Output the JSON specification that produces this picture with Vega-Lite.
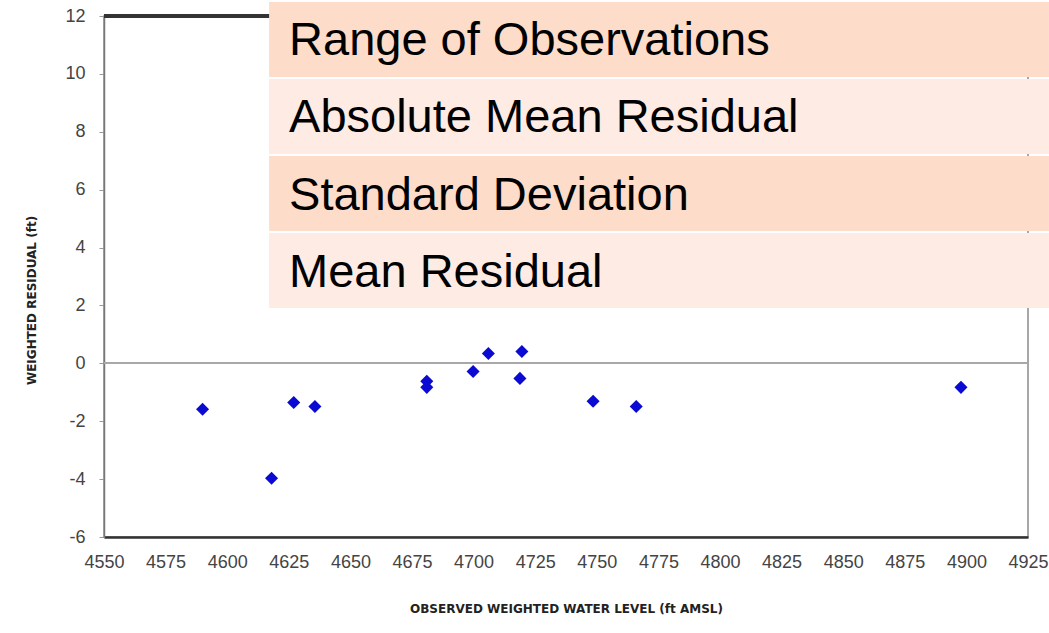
{
  "$schema": "https://vega.github.io/schema/vega-lite/v6.json",
  "autosize": "none",
  "width": 924,
  "height": 521,
  "padding": {"left": 104, "top": 16, "right": 21, "bottom": 96},
  "background": "white",
  "config": {
    "view": {"stroke": "#8a8a8a", "strokeWidth": 1.5},
    "axis": {"grid": false, "labelColor": "#444", "titleColor": "#222", "titleFontWeight": "bold"}
  },
  "datasets": {
    "residuals": [
      {"observed": 4590, "residual": -1.59},
      {"observed": 4618, "residual": -3.97},
      {"observed": 4627, "residual": -1.35},
      {"observed": 4635.6, "residual": -1.49},
      {"observed": 4681, "residual": -0.62},
      {"observed": 4681, "residual": -0.83},
      {"observed": 4699.8, "residual": -0.28},
      {"observed": 4706, "residual": 0.34},
      {"observed": 4719.6, "residual": 0.41},
      {"observed": 4718.8, "residual": -0.52},
      {"observed": 4748.5, "residual": -1.31},
      {"observed": 4766, "residual": -1.49},
      {"observed": 4897.8, "residual": -0.83}
    ],
    "stats": [
      {"label": "Range of Observations"},
      {"label": "Absolute Mean Residual"},
      {"label": "Standard Deviation"},
      {"label": "Mean Residual"}
    ]
  },
  "layer": [
    {
      "data": {"name": "residuals"},
      "layer": [
        {
          "mark": {"type": "rule", "stroke": "#a8a8a8", "strokeWidth": 1.5},
          "encoding": {"y": {"datum": 0, "type": "quantitative"}}
        },
        {
          "mark": {"type": "rule", "stroke": "#333", "strokeWidth": 2.5},
          "encoding": {"y": {"datum": 12, "type": "quantitative"}}
        },
        {
          "mark": {"type": "point", "shape": "diamond", "filled": true, "size": 170, "color": "#0a0ad2", "opacity": 1},
          "encoding": {
            "x": {
              "field": "observed", "type": "quantitative",
              "scale": {"domain": [4550, 4925], "nice": false, "zero": false},
              "axis": {
                "values": [4550, 4575, 4600, 4625, 4650, 4675, 4700, 4725, 4750, 4775, 4800, 4825, 4850, 4875, 4900, 4925],
                "labelExpr": "datum.value + ''",
                "title": "OBSERVED WEIGHTED WATER LEVEL (ft AMSL)",
                "titleFont": "DejaVu Sans", "titleFontSize": 12, "titlePadding": 32,
                "labelFont": "Liberation Sans", "labelFontSize": 18, "labelPadding": 16,
                "ticks": false, "domainColor": "#333", "domainWidth": 2.5, "labelFlush": false
              }
            },
            "y": {
              "field": "residual", "type": "quantitative",
              "scale": {"domain": [-6, 12], "nice": false, "zero": false},
              "axis": {
                "values": [-6, -4, -2, 0, 2, 4, 6, 8, 10, 12],
                "labelExpr": "datum.value + ''",
                "title": "WEIGHTED RESIDUAL (ft)",
                "titleFont": "DejaVu Sans", "titleFontSize": 12, "titlePadding": 26, "titleY": 284,
                "labelFont": "Liberation Sans", "labelFontSize": 18, "labelPadding": 14,
                "tickSize": 5, "tickColor": "#999", "domainColor": "#777", "domainWidth": 1.5
              }
            }
          }
        }
      ]
    },
    {
      "data": {"name": "stats"},
      "layer": [
        {
          "mark": {"type": "rect", "clip": false},
          "encoding": {
            "x": {"datum": 4617, "type": "quantitative"},
            "x2": {"datum": 4933.5},
            "y": {
              "field": "label", "type": "nominal",
              "scale": {"domain": ["Range of Observations", "Absolute Mean Residual", "Standard Deviation", "Mean Residual"], "range": [-14, 292], "paddingInner": 0.026, "paddingOuter": 0},
              "axis": null
            },
            "color": {
              "field": "label", "type": "nominal",
              "scale": {"domain": ["Range of Observations", "Absolute Mean Residual", "Standard Deviation", "Mean Residual"], "range": ["#fddcc9", "#feebe4", "#fddcc9", "#feebe4"]},
              "legend": null
            }
          }
        },
        {
          "mark": {"type": "text", "align": "left", "baseline": "middle", "font": "Liberation Sans", "fontSize": 47, "color": "#000", "dy": 2},
          "encoding": {
            "x": {"datum": 4625.1, "type": "quantitative"},
            "y": {"field": "label", "type": "nominal"},
            "text": {"field": "label"}
          }
        }
      ]
    }
  ],
  "resolve": {"scale": {"y": "independent", "color": "independent"}}
}
